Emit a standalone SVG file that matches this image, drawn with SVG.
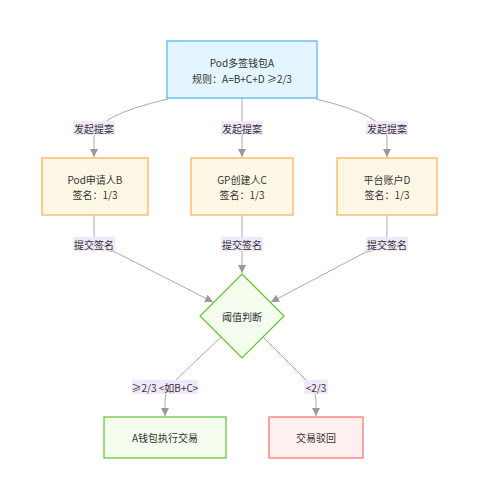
<svg xmlns="http://www.w3.org/2000/svg" width="478" height="500" viewBox="0 0 478 500">
<style>
text{font-family:"Noto Sans CJK SC","Noto Sans",sans-serif;font-size:10px;fill:#333;text-anchor:middle;dominant-baseline:central}
.edge{fill:none;stroke:#aaaaaa;stroke-width:1}
.lbl{fill:#efe6fb;opacity:0.9}
.blue{fill:#e3f5fe;stroke:#4db3f5;stroke-width:1.2}
.orange{fill:#fff7e6;stroke:#ffad4d;stroke-width:1.2}
.green{fill:#f5fdee;stroke:#5cc52a;stroke-width:1.2}
.red{fill:#fff0f0;stroke:#ff6b6b;stroke-width:1.2}
</style>
<defs>
<marker id="arr" viewBox="0 0 10 10" refX="10" refY="5" markerWidth="8" markerHeight="8" markerUnits="userSpaceOnUse" orient="auto">
<path d="M0,0 L10,5 L0,10 z" fill="#999"/>
</marker>
</defs>
<rect width="478" height="500" fill="#ffffff"/>
<g id="connectors">
<path class="edge" d="M168,99 Q94,116 94,138 L94,157" marker-end="url(#arr)"/>
<path class="edge" d="M242,98 L242,157" marker-end="url(#arr)"/>
<path class="edge" d="M316,99 Q387,116 387,138 L387,157" marker-end="url(#arr)"/>
<path class="edge" d="M94,215 L94,232 C94,246 100,250 115,252 L213,302" marker-end="url(#arr)"/>
<path class="edge" d="M242,215 L242,273" marker-end="url(#arr)"/>
<path class="edge" d="M387,215 L387,232 C387,246 381,250 366,252 L271,302" marker-end="url(#arr)"/>
<path class="edge" d="M221,337 L178,378 Q165,390 165,400 L165,416" marker-end="url(#arr)"/>
<path class="edge" d="M263,337 L304,378 Q316,390 316,400 L316,416" marker-end="url(#arr)"/>
<rect class="lbl" x="73" y="121" width="42" height="14"/><text x="94" y="128">发起提案</text>
<rect class="lbl" x="221" y="121" width="42" height="14"/><text x="242" y="128">发起提案</text>
<rect class="lbl" x="366" y="121" width="42" height="14"/><text x="387" y="128">发起提案</text>
<rect class="lbl" x="73" y="237" width="42" height="14"/><text x="94" y="244">提交签名</text>
<rect class="lbl" x="221" y="237" width="42" height="14"/><text x="242" y="244">提交签名</text>
<rect class="lbl" x="366" y="237" width="42" height="14"/><text x="387" y="244">提交签名</text>
<rect class="lbl" x="132" y="380" width="66" height="14"/><text x="165" y="387">≥2/3 &lt;如B+C&gt;</text>
<rect class="lbl" x="304" y="380" width="24" height="14"/><text x="316" y="387">&lt;2/3</text>
</g>
<g id="nodeA">
<rect class="blue" x="167" y="41" width="150" height="57"/>
<text x="242" y="62">Pod多签钱包A</text>
<text x="242" y="78">规则：A=B+C+D ≥2/3</text>
</g>
<g id="nodeB">
<rect class="orange" x="42" y="158" width="106" height="57"/>
<text x="95" y="179">Pod申请人B</text>
<text x="95" y="194">签名：1/3</text>
</g>
<g id="nodeC">
<rect class="orange" x="191" y="158" width="102" height="57"/>
<text x="242" y="179">GP创建人C</text>
<text x="242" y="194">签名：1/3</text>
</g>
<g id="nodeD">
<rect class="orange" x="337" y="158" width="100" height="57"/>
<text x="387" y="179">平台账户D</text>
<text x="387" y="194">签名：1/3</text>
</g>
<g id="nodeJudge">
<polygon class="green" points="242,274 284,316 242,358 200,316"/>
<text x="242" y="316">阈值判断</text>
</g>
<g id="nodeExec">
<rect class="green" x="104" y="417" width="122" height="41"/>
<text x="165" y="437">A钱包执行交易</text>
</g>
<g id="nodeReject">
<rect class="red" x="269" y="417" width="94" height="41"/>
<text x="316" y="437">交易驳回</text>
</g>
</svg>
